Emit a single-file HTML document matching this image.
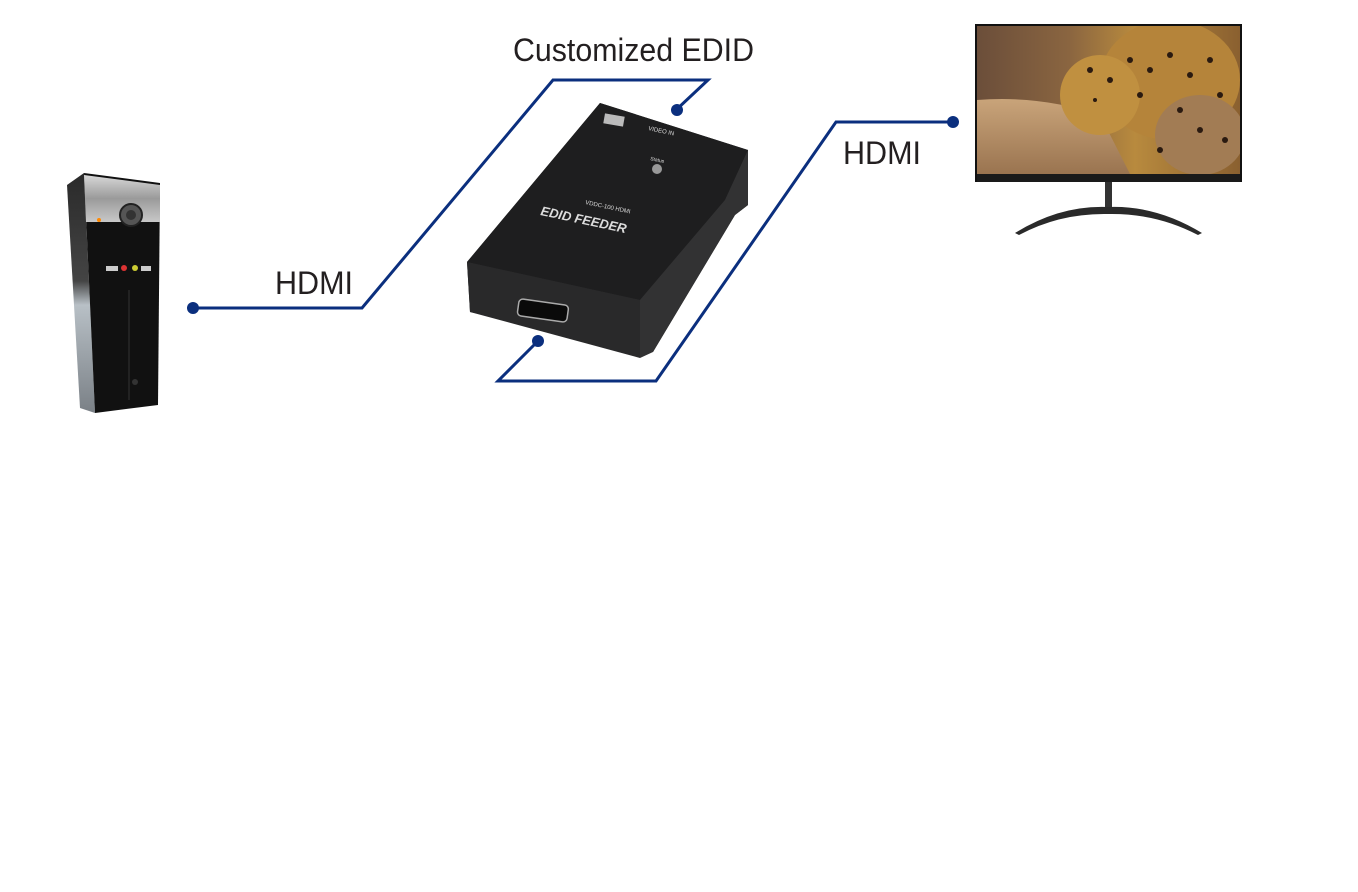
<!DOCTYPE html>
<html><head><meta charset="utf-8"><style>
html,body{margin:0;padding:0;background:#fff;}
svg{display:block;}
text{font-family:"Liberation Sans",sans-serif;}
</style></head><body>
<svg width="1358" height="892" viewBox="0 0 1358 892" xmlns="http://www.w3.org/2000/svg">
<defs>
<linearGradient id="scr" x1="0" y1="0" x2="1" y2="0">
<stop offset="0" stop-color="#6b4e3a"/><stop offset="0.35" stop-color="#8a6540"/><stop offset="0.6" stop-color="#b88a3e"/><stop offset="1" stop-color="#8a6030"/>
</linearGradient>
<linearGradient id="rock" x1="0" y1="0" x2="0" y2="1">
<stop offset="0" stop-color="#c9a47a"/><stop offset="1" stop-color="#9a7450"/>
</linearGradient>
<linearGradient id="pcside" x1="0" y1="0" x2="0" y2="1">
<stop offset="0" stop-color="#2a2a2a"/><stop offset="0.45" stop-color="#444"/><stop offset="0.55" stop-color="#b8c0c6"/><stop offset="1" stop-color="#7a8086"/>
</linearGradient>
<linearGradient id="silver" x1="0" y1="0" x2="0" y2="1">
<stop offset="0" stop-color="#d8d8d8"/><stop offset="0.5" stop-color="#9a9a9a"/><stop offset="1" stop-color="#c8c8c8"/>
</linearGradient>
<clipPath id="sc"><rect x="977" y="26" width="263" height="148"/></clipPath>
</defs>

<!-- PC tower -->
<polygon points="67,185 84,173 95,413 80,408" fill="url(#pcside)"/>
<polygon points="84,173 160,183 158,405 95,413" fill="#111"/>
<polygon points="84,175 160,185 160,222 86,222" fill="url(#silver)"/>
<circle cx="131" cy="215" r="11" fill="#555" stroke="#222" stroke-width="2"/>
<circle cx="131" cy="215" r="5" fill="#333"/>
<circle cx="99" cy="220" r="2" fill="#f80"/>
<rect x="106" y="266" width="12" height="5" fill="#ccc"/>
<circle cx="124" cy="268" r="3" fill="#d33"/>
<circle cx="135" cy="268" r="3" fill="#cc3"/>
<rect x="141" y="266" width="10" height="5" fill="#ccc"/>
<line x1="129" y1="290" x2="129" y2="400" stroke="#333" stroke-width="1"/>
<circle cx="135" cy="382" r="3" fill="#333"/>

<!-- EDID feeder box -->
<polygon points="600,103 748,150 748,205 735,215 653,352 470,312 467,262" fill="#2a2a2b"/>
<polygon points="600,103 748,150 725,200 640,300 467,262" fill="#1e1e1f"/>
<polygon points="467,262 640,300 640,358 470,312" fill="#29292a"/>
<polygon points="640,300 725,200 748,150 748,205 735,215 653,352 640,358" fill="#323233"/>
<rect x="518" y="302" width="50" height="17" rx="4" fill="#0a0a0a" stroke="#aaa" stroke-width="1.5" transform="rotate(8 543 310)"/>
<circle cx="657" cy="169" r="5" fill="#999"/>
<text x="0" y="0" font-size="13" font-weight="bold" fill="#ddd" font-style="italic" transform="translate(540,215) rotate(12)">EDID FEEDER</text>
<text x="0" y="0" font-size="6" fill="#ddd" transform="translate(585,204) rotate(12)">VDDC-100 HDMI</text>
<text x="0" y="0" font-size="6" fill="#ddd" transform="translate(648,130) rotate(12)">VIDEO IN</text>
<text x="0" y="0" font-size="5" fill="#ddd" transform="translate(650,160) rotate(12)">Status</text>
<rect x="604" y="115" width="20" height="10" fill="#bbb" transform="rotate(10 614 120)"/>

<!-- Monitor -->
<rect x="975" y="24" width="267" height="158" fill="#111"/>
<g clip-path="url(#sc)">
<rect x="977" y="26" width="263" height="148" fill="url(#scr)"/>
<path d="M977,100 Q1040,95 1100,115 L1130,174 L977,174 Z" fill="url(#rock)"/>
<ellipse cx="1170" cy="80" rx="70" ry="60" fill="#b5843a"/>
<ellipse cx="1100" cy="95" rx="40" ry="40" fill="#c09040"/>
<ellipse cx="1200" cy="135" rx="45" ry="40" fill="#a27c54"/>
<g fill="#2a1a10">
<circle cx="1090" cy="70" r="3"/><circle cx="1110" cy="80" r="3"/><circle cx="1130" cy="60" r="3"/><circle cx="1150" cy="70" r="3"/><circle cx="1170" cy="55" r="3"/><circle cx="1190" cy="75" r="3"/><circle cx="1210" cy="60" r="3"/><circle cx="1220" cy="95" r="3"/><circle cx="1180" cy="110" r="3"/><circle cx="1200" cy="130" r="3"/><circle cx="1225" cy="140" r="3"/><circle cx="1160" cy="150" r="3"/><circle cx="1095" cy="100" r="2"/><circle cx="1140" cy="95" r="3"/>
</g>
</g>
<rect x="977" y="174" width="263" height="8" fill="#1a1a1a"/>
<rect x="1105" y="182" width="7" height="30" fill="#333"/>
<path d="M1015,233 Q1060,205 1108,207 Q1156,205 1202,233 L1198,235 Q1156,213 1108,214 Q1060,213 1019,235 Z" fill="#2a2a2a"/>

<!-- connectors -->
<g fill="none" stroke="#0b2f7e" stroke-width="3" stroke-linejoin="miter">
<polyline points="193,308 362,308 553,80 708,80 676,110"/>
<polyline points="538,341 498,381 656,381 836,122 953,122"/>
</g>
<g fill="#0b2f7e">
<circle cx="193" cy="308" r="6"/>
<circle cx="677" cy="110" r="6"/>
<circle cx="538" cy="341" r="6"/>
<circle cx="953" cy="122" r="6"/>
</g>

<text x="513" y="61" font-size="32" fill="#231f20" textLength="241" lengthAdjust="spacingAndGlyphs">Customized EDID</text>
<text x="275" y="294" font-size="32" fill="#231f20" textLength="78" lengthAdjust="spacingAndGlyphs">HDMI</text>
<text x="843" y="164" font-size="32" fill="#231f20" textLength="78" lengthAdjust="spacingAndGlyphs">HDMI</text>
</svg>
</body></html>
